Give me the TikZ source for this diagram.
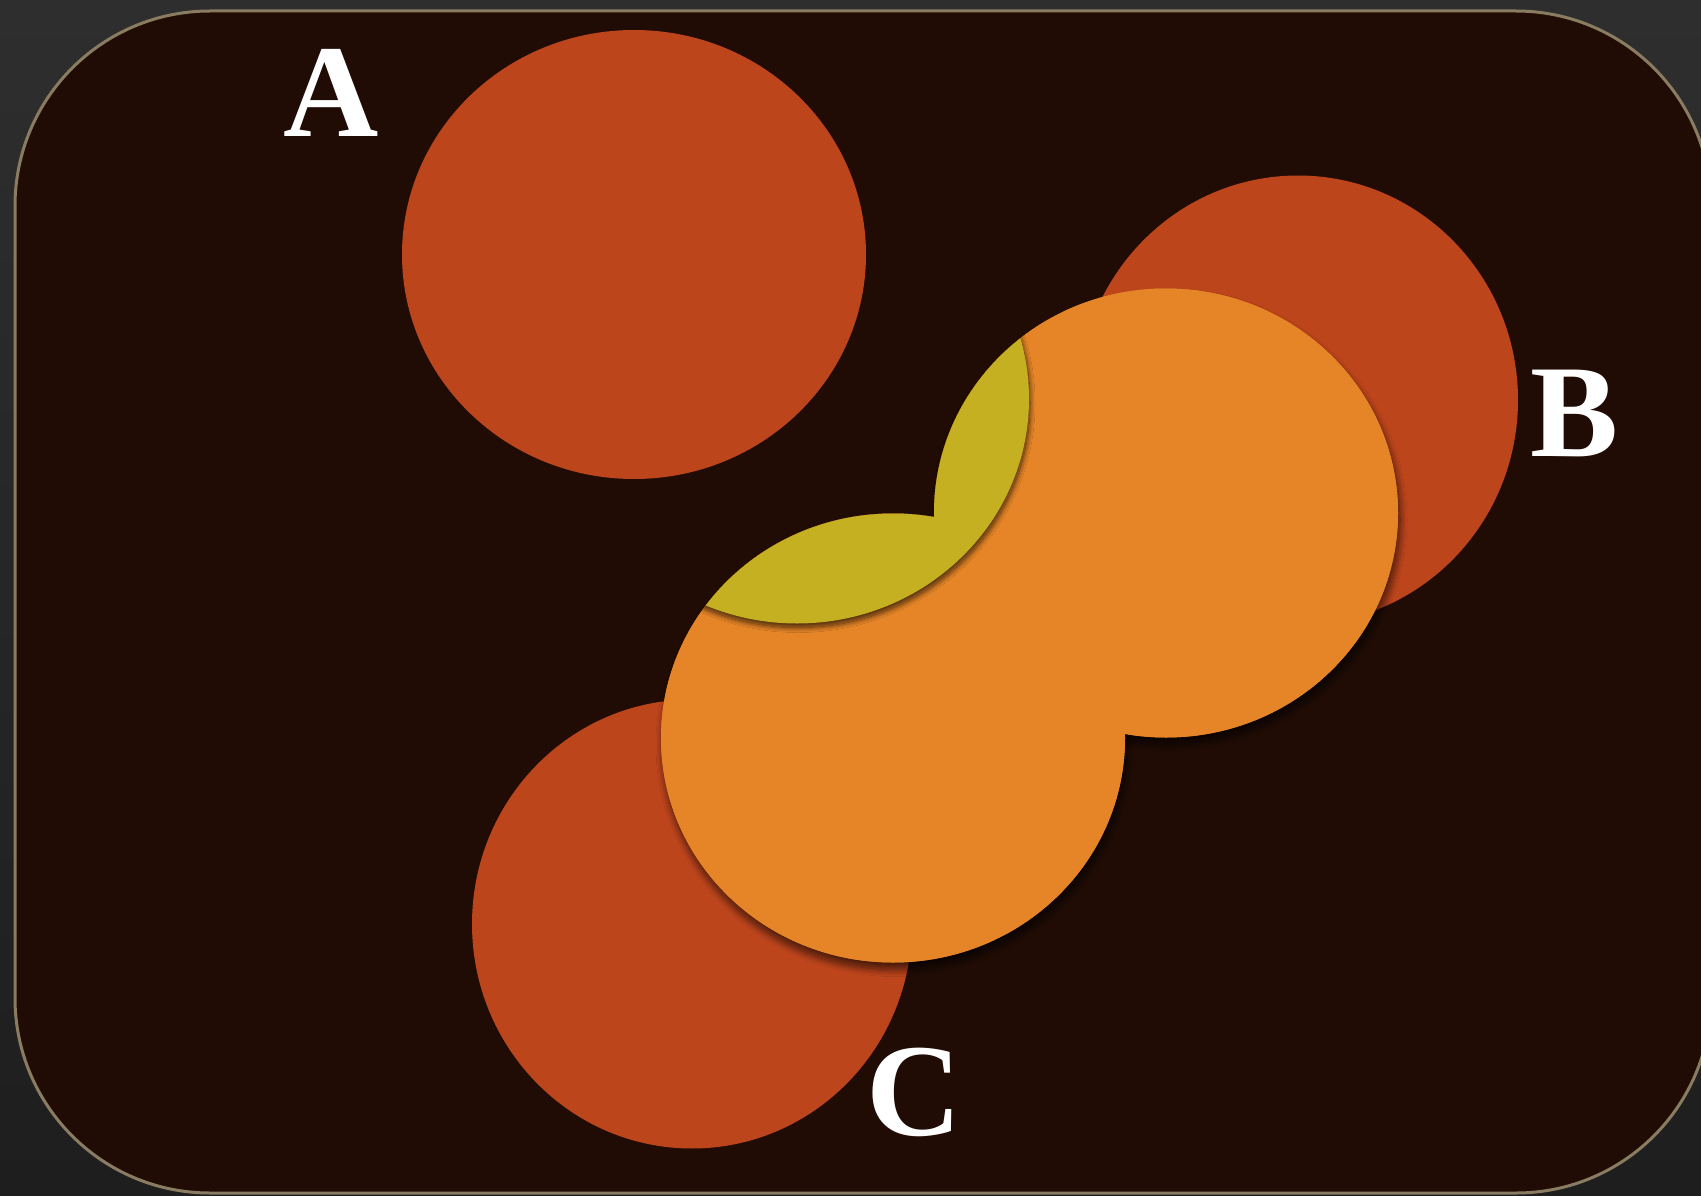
\documentclass[tikz,border=0pt]{standalone}
\usepackage{fontspec}
\setmainfont{Liberation Serif}
\usetikzlibrary{shadows.blur}
\definecolor{bgtop}{RGB}{46,46,46}
\definecolor{bgbot}{RGB}{30,30,30}
\definecolor{panel}{RGB}{32,12,5}
\definecolor{panelborder}{RGB}{138,124,96}
\definecolor{vred}{RGB}{189,69,28}
\definecolor{vorange}{RGB}{229,133,39}
\definecolor{vyellow}{RGB}{197,176,34}
\tikzset{
  blob/.style={x radius=232pt, y radius=224.5pt},
  narrowblob/.style={x radius=220pt, y radius=224.5pt},
  softshadow/.style={blur shadow={shadow xshift=2pt, shadow yshift=-7pt, shadow blur radius=7pt, shadow blur steps=20, shadow opacity=65}},
  innershadow/.style={blur shadow={shadow xshift=1pt, shadow yshift=-4pt, shadow blur radius=5pt, shadow blur steps=20, shadow opacity=70}},
  lbl/.style={text=white, inner sep=0pt, font=\fontsize{132}{132}\selectfont\bfseries}
}
\begin{document}
\begin{tikzpicture}[x=1pt,y=-1pt]
\useasboundingbox (0,0) rectangle (1701,1196);
\shade[top color=bgtop, bottom color=bgbot] (0,0) rectangle (1701,1196);
\draw[fill=panel, draw=panelborder, line width=3pt, rounded corners=195pt] (15,11) rectangle (1711,1193);
% red circles
\fill[vred] (634,254.5) ellipse [blob];
\fill[vred] (1298,400) ellipse [narrowblob];
\fill[vred] (692,924) ellipse [narrowblob];
% orange pieces with shadows
\path[softshadow, fill=vorange] (1166,513) ellipse [blob];
\path[softshadow, fill=vorange] (893,738) ellipse [blob];
\fill[vorange] (1166,513) ellipse [blob];
\fill[vorange] (893,738) ellipse [blob];
% yellow piece
\begin{scope}
  \clip (1166,513) ellipse [blob] (893,738) ellipse [blob];
  \path[innershadow, fill=vyellow] (797,399) ellipse [blob];
\end{scope}
% labels
\node[lbl] (labA) at (331,93) {A};
\node[lbl] (labB) at (1575,413) {B};
\node[lbl] (labC) at (914,1092) {C};
\end{tikzpicture}
\end{document}
